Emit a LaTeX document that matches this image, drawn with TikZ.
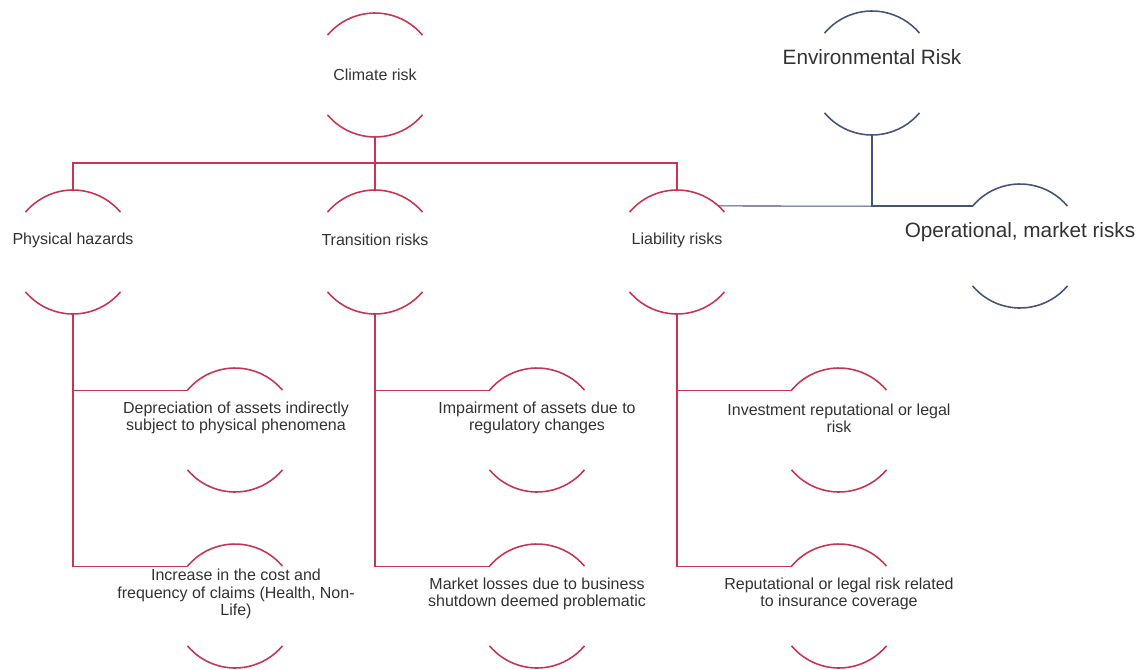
\documentclass[tikz,border=0pt]{standalone}
\usepackage{fontspec}
\setmainfont{Liberation Sans}
\usetikzlibrary{calc}
\definecolor{riskred}{RGB}{200,52,82}
\definecolor{riskblue}{RGB}{68,84,122}
\definecolor{risktext}{RGB}{50,50,50}
% top and bottom arcs of a ring node: node name, colour
\newcommand{\riskarcs}[2]{%
  \draw[#2, line width=0.9pt] (#1.140) arc[start angle=140, end angle=40, radius=1.24cm];
  \draw[#2, line width=0.9pt] (#1.220) arc[start angle=220, end angle=320, radius=1.24cm];}

\begin{document}
\begin{tikzpicture}[x=0.02cm, y=0.02cm,
  ring/.style={circle, minimum size=2.48cm, inner sep=0pt, outer sep=0pt},
  small/.style={text=risktext, font=\fontsize{9.1}{9.8}\selectfont, align=center},
  big/.style={text=risktext, font=\fontsize{11.8}{13}\selectfont, align=center},
  redline/.style={riskred, line width=0.7pt},
  blueline/.style={riskblue, line width=1.2pt}]
\useasboundingbox (0,0) rectangle (1148,-669);
% Top level
\node[ring] (climate) at (375,-75) {};
\node[small] (climate-t) at (375,-75) {Climate risk};
\node[ring] (env) at (872,-73) {};
\node[big] (env-t) at (872,-57) {Environmental Risk};
% Second level
\node[ring] (phys) at (73,-252) {};
\node[small] (phys-t) at (73,-240) {Physical hazards};
\node[ring] (trans) at (375,-252) {};
\node[small] (trans-t) at (375,-240) {Transition risks};
\node[ring] (liab) at (677,-252) {};
\node[small] (liab-t) at (677,-240) {Liability risks};
\node[ring] (oper) at (1020,-246) {};
\node[big] (oper-t) at (1020,-232) {Operational, market risks};
% Third level
\node[ring] (dep) at (235,-430) {};
\node[small] (dep-t) at (236,-418) {Depreciation of assets indirectly\\subject to physical phenomena};
\node[ring] (claims) at (235,-606) {};
\node[small] (claims-t) at (236,-594) {Increase in the cost and\\frequency of claims (Health, Non-\\Life)};
\node[ring] (impair) at (537,-430) {};
\node[small] (impair-t) at (537,-418) {Impairment of assets due to\\regulatory changes};
\node[ring] (shutdown) at (537,-606) {};
\node[small] (shutdown-t) at (537,-594) {Market losses due to business\\shutdown deemed problematic};
\node[ring] (invest) at (839,-430) {};
\node[small] (invest-t) at (839,-418) {Investment reputational or legal\\risk};
\node[ring] (coverage) at (839,-606) {};
\node[small] (coverage-t) at (839,-594) {Reputational or legal risk related\\to insurance coverage};
% Arcs
\foreach \n in {climate,phys,trans,liab,dep,claims,impair,shutdown,invest,coverage}
  {\riskarcs{\n}{riskred}}
\riskarcs{env}{riskblue}
\riskarcs{oper}{riskblue}
% Climate branches
\coordinate (bus) at (375,-163);
\draw[redline] (climate.south) -- (trans.north);
\draw[redline] (phys.north) |- (bus) -| (liab.north);
\draw[redline] (phys.south) |- (dep.140);
\draw[redline] (phys.south) |- (claims.140);
\draw[redline] (trans.south) |- (impair.140);
\draw[redline] (trans.south) |- (shutdown.140);
\draw[redline] (liab.south) |- (invest.140);
\draw[redline] (liab.south) |- (coverage.140);
% Environmental branch
\coordinate (envjoin) at (env.south |- oper.140);
\draw[riskblue, line width=0.6pt] (liab.48) -- (envjoin);
\draw[blueline] (env.south) -- (envjoin) -- (oper.140);
\end{tikzpicture}
\end{document}
